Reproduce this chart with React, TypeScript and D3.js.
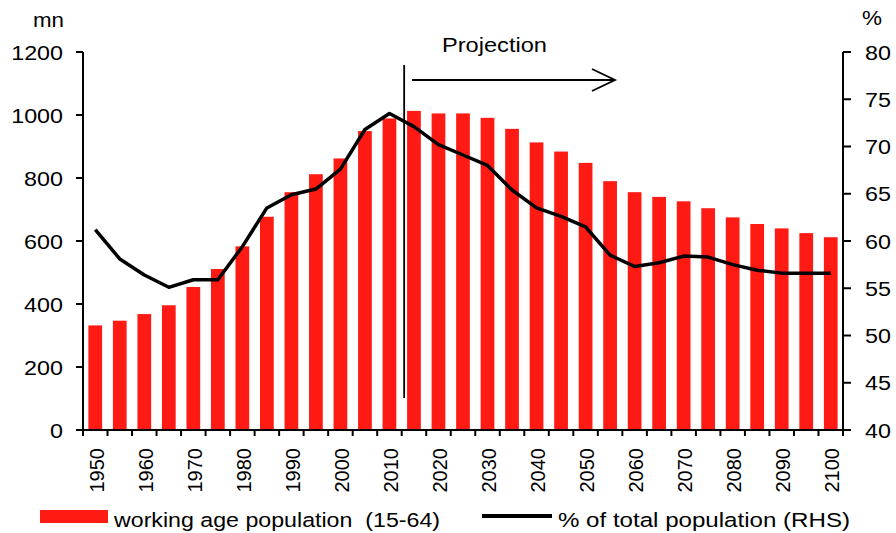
import React from "react";
import * as d3 from "d3";

const years: number[] = [1950,1955,1960,1965,1970,1975,1980,1985,1990,1995,2000,2005,2010,2015,2020,2025,2030,2035,2040,2045,2050,2055,2060,2065,2070,2075,2080,2085,2090,2095,2100];
const workingAge: number[] = [332,347,368,396,454,511,583,677,755,812,862,949,989,1013,1005,1005,991,956,913,884,848,790,755,740,726,704,675,654,640,625,612];
const pctTotal: number[] = [61.2,58.1,56.4,55.1,55.9,55.9,59.4,63.5,64.9,65.5,67.6,71.8,73.5,72.1,70.2,69.1,68.0,65.4,63.5,62.6,61.5,58.5,57.3,57.7,58.4,58.3,57.5,56.9,56.6,56.6,56.6];
const leftTicks: number[] = [0,200,400,600,800,1000,1200];
const rightTicks: number[] = [40,45,50,55,60,65,70,75,80];
const labelYears: number[] = years.filter((y) => y % 10 === 0);
const projectionYear = 2013;
const arrowFrom = 2014.6;
const arrowTo = 2056;

const W = 896, H = 533;
const L = 83, R = 843, T = 52, B = 430;
const FONT = "'Liberation Sans', Arial, sans-serif";
const RED = "#ff1a14";

export default function App() {
  const x = d3.scaleBand<number>().domain(years).range([L, R]).paddingInner(0.44).paddingOuter(0.22);
  const yL = d3.scaleLinear().domain([0, 1200]).range([B, T]);
  const yR = d3.scaleLinear().domain([40, 80]).range([B, T]);
  const cx = (yr: number) => (x(yr) as number) + x.bandwidth() / 2;
  const yearX = d3.scaleLinear().domain([years[0], years[years.length - 1]]).range([cx(years[0]), cx(years[years.length - 1])]);
  const line = d3.line<number>().x((_, i) => cx(years[i])).y((d) => yR(d));
  const step = x.step();
  const boundaries = d3.range(years.length + 1).map((i) => L + i * step);
  const px = yearX(projectionYear);
  const a0 = yearX(arrowFrom), a1 = yearX(arrowTo);
  const ay = 80;
  const SX = 1.11;

  return (
    <div style={{ position: "absolute", left: 0, top: 0 }}>
      <svg width={W} height={H} style={{ display: "block", background: "#fff" }} fontFamily={FONT}>
        {/* bars */}
        {years.map((yr, i) => (
          <rect key={yr} x={x(yr)} y={yL(workingAge[i])} width={x.bandwidth()} height={B - yL(workingAge[i])} fill={RED} />
        ))}
        {/* line */}
        <path d={line(pctTotal) || ""} fill="none" stroke="#000" strokeWidth={3.5} strokeLinejoin="round" />
        {/* projection marker */}
        <line x1={px} x2={px} y1={65} y2={398} stroke="#000" strokeWidth={1.8} />
        <line x1={a0} x2={a1} y1={ay} y2={ay} stroke="#000" strokeWidth={1.8} />
        <polyline points={`${a1 - 23},${ay - 11} ${a1},${ay} ${a1 - 23},${ay + 11}`} fill="none" stroke="#000" strokeWidth={1.8} />
        <text x={442} y={52} fontSize={20} textLength={105} lengthAdjust="spacingAndGlyphs" fill="#000">Projection</text>
        {/* left axis */}
        <line x1={L} x2={L} y1={T} y2={B} stroke="#000" strokeWidth={2} />
        {leftTicks.map((t) => (
          <g key={t}>
            <line x1={L - 7} x2={L} y1={yL(t)} y2={yL(t)} stroke="#000" strokeWidth={2} />
            <text transform={`translate(63,${yL(t)}) scale(${SX},1)`} dy="0.36em" textAnchor="end" fontSize={21} fill="#000">{t}</text>
          </g>
        ))}
        <text x={33} y={27} textLength={31} lengthAdjust="spacingAndGlyphs" fontSize={20} fill="#000">mn</text>
        {/* right axis */}
        <line x1={R} x2={R} y1={T} y2={B} stroke="#000" strokeWidth={2} />
        {rightTicks.map((t) => (
          <g key={t}>
            <line x1={R} x2={R + 8} y1={yR(t)} y2={yR(t)} stroke="#000" strokeWidth={2} />
            <text transform={`translate(865,${yR(t)}) scale(${SX},1)`} dy="0.36em" textAnchor="start" fontSize={21} fill="#000">{t}</text>
          </g>
        ))}
        <text x={862} y={25} textLength={20} lengthAdjust="spacingAndGlyphs" fontSize={20} fill="#000">%</text>
        {/* bottom axis */}
        <line x1={L} x2={R + 1} y1={B} y2={B} stroke="#000" strokeWidth={2} />
        {boundaries.map((b, i) => (
          <line key={i} x1={b} x2={b} y1={B} y2={B + 6} stroke="#000" strokeWidth={2} />
        ))}
        {labelYears.map((yr) => (
          <text key={yr} transform={`translate(${cx(yr) + 1.5},448) rotate(-90)`} dy="0.36em" textAnchor="end" fontSize={20} fill="#000">{yr}</text>
        ))}
        {/* legend */}
        <rect x={40} y={510} width={68} height={13} fill={RED} />
        <text x={114} y={527} fontSize={20.5} textLength={326} lengthAdjust="spacingAndGlyphs" fill="#000" style={{ whiteSpace: "pre" }}>{"working age population  (15-64)"}</text>
        <line x1={482} x2={552} y1={516} y2={516} stroke="#000" strokeWidth={4} />
        <text x={558} y={527} fontSize={20.5} textLength={292} lengthAdjust="spacingAndGlyphs" fill="#000">% of total population (RHS)</text>
      </svg>
    </div>
  );
}
